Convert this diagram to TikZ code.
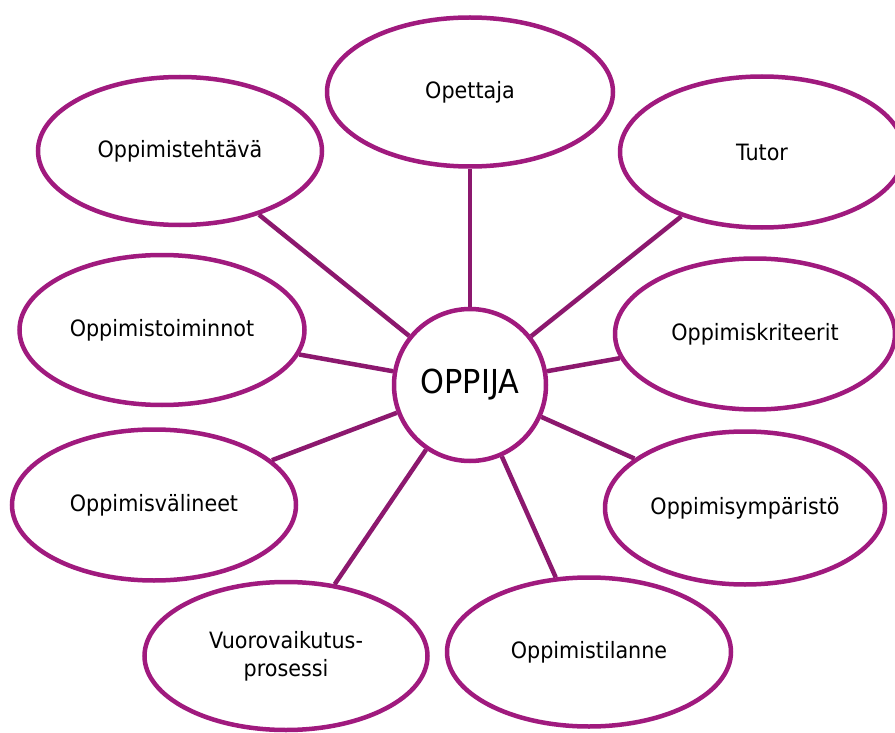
\documentclass[tikz,border=0pt]{standalone}
\usepackage{fontspec}
\setmainfont{DejaVu Sans}[FakeStretch=0.92]
\usetikzlibrary{shapes.geometric}
\definecolor{rim}{RGB}{160,26,126}
\definecolor{link}{RGB}{140,24,110}
\tikzset{
  bubble/.style={ellipse, draw=rim, line width=4.5pt, fill=white, inner sep=0pt,
    minimum width=284pt, minimum height=150pt, align=center,
    font=\fontsize{22.5}{28}\selectfont},
  hub/.style={circle, draw=rim, line width=4.5pt, fill=white, inner sep=0pt,
    minimum size=152pt, font=\fontsize{33}{38}\selectfont},
  spoke/.style={draw=link, line width=4.5pt}
}
\begin{document}
\begin{tikzpicture}[x=1pt,y=-1pt]
\useasboundingbox (0,0) rectangle (895,733);
\node[hub] (c) at (470,385) {OPPIJA};
\node[bubble, minimum width=286pt, minimum height=149pt] (ope) at (470,92) {Opettaja};
\node[bubble, minimum height=151pt] (tut) at (762,152) {Tutor};
\node[bubble, minimum height=148pt] (teh) at (180,151) {Oppimistehtävä};
\node[bubble, minimum width=285pt] (toi) at (162,330) {Oppimistoiminnot};
\node[bubble, minimum width=280pt, minimum height=151pt] (kri) at (755,334) {Oppimiskriteerit};
\node[bubble, minimum height=151pt] (val) at (154,505) {Oppimisvälineet};
\node[bubble, minimum width=280pt, minimum height=153pt] (ymp) at (745,508) {Oppimisympäristö};
\node[bubble, minimum width=283pt, minimum height=148pt] (vuo) at (286,656) {Vuorovaikutus-\\prosessi};
\node[bubble, minimum height=149pt] (til) at (589,652) {Oppimistilanne};
\draw[spoke] (c) -- (ope);
\draw[spoke] (c) -- (tut);
\draw[spoke] (c) -- (teh);
\draw[spoke] (c) -- (toi);
\draw[spoke] (c) -- (kri);
\draw[spoke] (c) -- (val);
\draw[spoke] (c) -- (ymp);
\draw[spoke] (c) -- (vuo);
\draw[spoke] (c) -- (til);
\end{tikzpicture}
\end{document}
